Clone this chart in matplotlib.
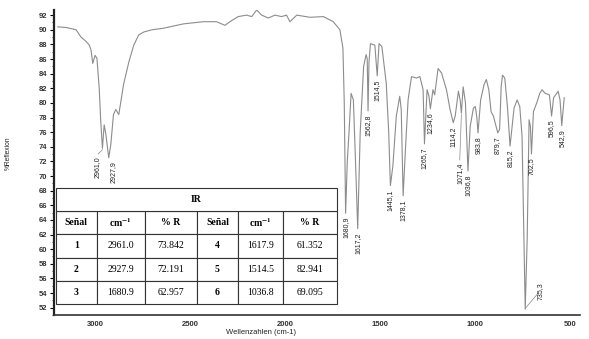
import numpy as np
import matplotlib.pyplot as plt

plt.rcParams['mathtext.fontset'] = 'stix'

# spectrum (wavenumber cm-1, %R)
wn = [3196, 3150, 3100, 3074, 3047, 3030, 3021, 3012, 3000, 2990, 2978, 2970,
      2961, 2952, 2943, 2928, 2917, 2903, 2891, 2875, 2850, 2822, 2796, 2770,
      2742, 2700, 2641, 2535, 2430, 2360, 2316, 2290, 2246, 2202, 2175, 2149,
      2123, 2088, 2053, 2018, 1992, 1974, 1938, 1868, 1798, 1746, 1711, 1695,
      1688, 1680.9, 1672, 1663, 1652, 1640, 1628, 1617.2, 1604, 1586, 1573,
      1567, 1562.8, 1558, 1550, 1527, 1514.5, 1505, 1490, 1467, 1454, 1445.1,
      1432, 1414, 1396, 1388, 1378.1, 1366, 1352, 1334, 1308, 1290, 1273,
      1265.7, 1252, 1242, 1234.6, 1221, 1212, 1194, 1176, 1150, 1131, 1114.2,
      1104, 1087, 1078, 1071.4, 1062, 1050, 1036.8, 1025, 1008, 998, 990,
      983.8, 970, 952, 940, 927, 915, 903, 879.7, 870, 862, 855, 843, 829,
      822, 815.2, 805, 794, 778, 764, 752, 742, 735.3, 725, 715, 708, 702.5,
      692, 682, 672, 659, 647, 630, 608, 596.5, 586, 575, 562, 552, 542.9, 530]
refl = [90.4, 90.3, 90.0, 89.0, 88.4, 87.9, 87.2, 85.4, 86.5, 86.1, 82.0, 77.5,
        73.8, 77.0, 75.7, 72.5, 74.3, 78.4, 79.1, 78.4, 82.5, 85.6, 87.9, 89.3,
        89.7, 90.0, 90.2, 90.8, 91.1, 91.1, 90.6, 91.1, 91.8, 92.0, 91.8, 92.7,
        92.0, 91.6, 92.0, 91.8, 92.0, 91.1, 92.0, 91.7, 91.8, 91.1, 90.0, 87.5,
        80.0, 64.9, 72.0, 76.0, 81.3, 80.4, 71.4, 62.8, 76.0, 85.0, 86.6,
        86.0, 78.9, 85.5, 88.1, 87.9, 83.7, 88.1, 87.7, 82.7, 76.0, 68.7,
        71.4, 78.2, 80.9, 79.1, 67.3, 73.6, 80.4, 83.6, 83.4, 83.6, 81.8,
        74.4, 81.8, 80.9, 79.2, 81.8, 81.1, 84.7, 84.1, 81.8, 79.1, 77.3,
        78.2, 81.6, 80.4, 78.6, 82.2, 80.0, 70.7, 76.8, 79.3, 79.5, 78.0,
        75.9, 80.4, 82.5, 83.2, 81.8, 78.8, 78.2, 75.9, 76.4, 82.2, 83.8, 83.4, 79.5,
        76.8, 74.1, 76.6, 79.3, 80.4, 79.5, 75.4, 61.4, 51.8, 61.4, 77.7, 76.8, 73.0,
        78.8, 79.5, 80.2, 81.3, 81.8, 81.3, 81.1, 78.2, 80.7, 81.1, 81.6, 80.4, 76.9, 80.7]

# peak labels: text, position (wn) and top of the label (%R)
peak_txt = ['2961,0', '2927,9', '1680,9', '1617,2', '1562,8', '1514,5', '1445,1',
            '1378,1', '1265,7', '1234,6', '1114,2', '1071,4', '1036,8', '983,8',
            '879,7', '815,2', '702,5', '596,5', '542,9']
peak_x = [2989, 2905, 1680.9, 1617.2, 1562.8, 1514.5, 1445.1, 1378.1, 1265.7,
          1234.6, 1114.2, 1076, 1036.8, 983.8, 879.7, 815.2, 702.5, 596.5, 542.9]
peak_top = [72.7, 72.0, 64.4, 62.3, 78.4, 83.2, 68.2, 66.8, 73.9, 78.7, 76.8,
            71.9, 70.2, 75.4, 75.4, 73.6, 72.5, 77.7, 76.4]

# table values
signal = [1, 2, 3, 4, 5, 6]
table_cm = [2961.0, 2927.9, 1680.9, 1617.9, 1514.5, 1036.8]
table_r = [73.842, 72.191, 62.957, 61.352, 82.941, 69.095]

fig = plt.figure(figsize=(5.89, 3.39), dpi=100)
ax = fig.add_axes([0.0917, 0.0708, 0.893, 0.8997])

ax.plot(wn, refl, color='#8c8c8c', lw=0.8)
ax.set_xlim(3216, 447)
ax.set_ylim(51.2, 92.7)

for t, x, y in zip(peak_txt, peak_x, peak_top):
    ax.text(x, y, t, rotation=90, ha='center', va='top', fontsize=5,
            family='Liberation Sans', color='#222')
# leader lines
ax.plot([2961, 2984], [73.6, 73.0], color='#888', lw=0.5)
ax.plot([1071.4, 1080], [78.4, 72.2], color='#888', lw=0.5)
ax.plot([735.3, 670], [51.9, 53.9], color='#888', lw=0.5)
ax.text(655, 54.3, '735,3', rotation=90, ha='center', va='center', fontsize=5,
        family='Liberation Sans', color='#222')

for s in ['top', 'right']:
    ax.spines[s].set_visible(False)
ax.spines['left'].set_linewidth(1.6)
ax.spines['left'].set_color('#222')
ax.spines['bottom'].set_linewidth(1.2)
ax.spines['bottom'].set_color('#333')

ax.set_yticks(np.arange(52, 93, 2))
ax.set_yticks(np.arange(51, 93, 1), minor=True)
ax.set_xticks([3000, 2500, 2000, 1500, 1000, 500])
ax.tick_params(axis='y', which='major', length=3, width=0.8, labelsize=5.5, pad=2)
ax.tick_params(axis='y', which='minor', length=1.5, width=0.5)
ax.tick_params(axis='x', length=0, labelsize=5.5, pad=4)
for lab in ax.get_xticklabels() + ax.get_yticklabels():
    lab.set_fontweight('bold')
    lab.set_family('Liberation Sans')
    lab.set_color('#333')

ax.set_xlabel('Wellenzahlen (cm-1)', fontsize=5.5, family='Liberation Sans', color='#222')
ax.xaxis.set_label_coords(0.394, -0.045)
ax.set_ylabel('%Reflexion', fontsize=4.8, family='Liberation Sans', color='#222')
ax.yaxis.set_label_coords(-0.08, 0.53)

# table
header = ['Señal', r'cm$^{\mathbf{-1}}$', '% R', 'Señal', r'cm$^{\mathbf{-1}}$', '% R']
rows = []
for i in range(3):
    rows.append([str(signal[i]), '%.1f' % table_cm[i], '%.3f' % table_r[i],
                 str(signal[i + 3]), '%.1f' % table_cm[i + 3], '%.3f' % table_r[i + 3]])
widths = [40.7, 48.3, 51.7, 41.6, 45, 53.7]
widths = [w / sum(widths) for w in widths]

tb = ax.table(cellText=rows, colLabels=header, colWidths=widths, cellLoc='center',
              bbox=[0.0038, 0.036, 0.534, 0.305])
tb.auto_set_font_size(False)
for (r, c), cell in tb.get_celld().items():
    cell.set_edgecolor('#333')
    cell.set_linewidth(0.8)
    cell.set_facecolor('white')
    txt = cell.get_text()
    txt.set_fontsize(7)
    txt.set_family('Liberation Serif')
    if r == 0 or c in (0, 3):
        txt.set_fontweight('bold')

tb2 = ax.table(cellText=[['IR']], cellLoc='center', bbox=[0.0038, 0.341, 0.534, 0.075])
tb2.auto_set_font_size(False)
for (r, c), cell in tb2.get_celld().items():
    cell.set_edgecolor('#333')
    cell.set_linewidth(0.8)
    cell.set_facecolor('white')
    txt = cell.get_text()
    txt.set_fontsize(7)
    txt.set_family('Liberation Serif')
    txt.set_fontweight('bold')

plt.savefig('out.png', dpi=100)
